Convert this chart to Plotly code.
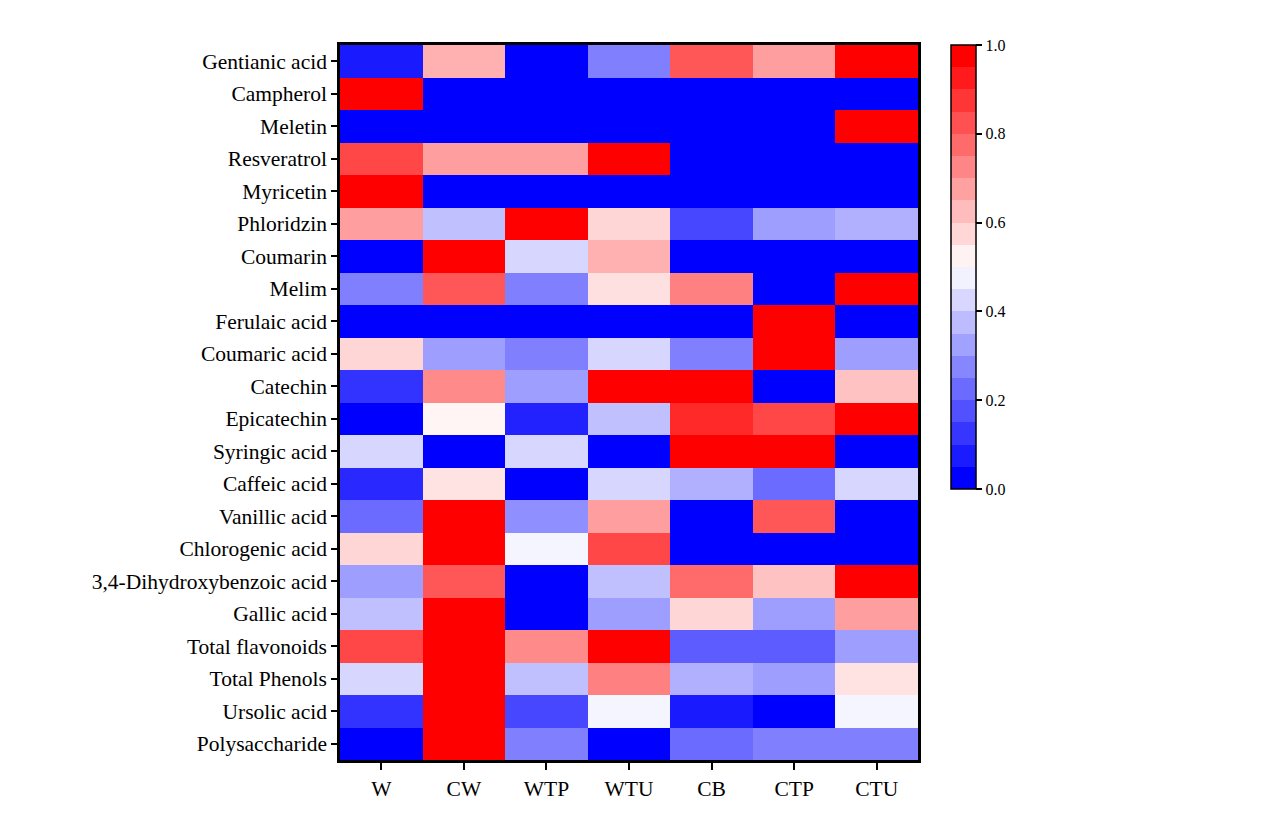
"""
Heatmap of normalised compound contents per treatment
"""
import plotly.graph_objects as go

# Data
treatments = ["W", "CW", "WTP", "WTU", "CB", "CTP", "CTU"]
compounds = [
    "Gentianic acid", "Campherol", "Meletin", "Resveratrol", "Myricetin",
    "Phloridzin", "Coumarin", "Melim", "Ferulaic acid", "Coumaric acid",
    "Catechin", "Epicatechin", "Syringic acid", "Caffeic acid", "Vanillic acid",
    "Chlorogenic acid", "3,4-Dihydroxybenzoic acid", "Gallic acid",
    "Total flavonoids", "Total Phenols", "Ursolic acid", "Polysaccharide",
]
gentianic_acid = [0.05, 0.655, 0.0, 0.25, 0.83, 0.69, 1.0]
campherol = [1.0, 0.0, 0.0, 0.0, 0.0, 0.0, 0.0]
meletin = [0.0, 0.0, 0.0, 0.0, 0.0, 0.0, 1.0]
resveratrol = [0.86, 0.69, 0.69, 1.0, 0.0, 0.0, 0.0]
myricetin = [1.0, 0.0, 0.0, 0.0, 0.0, 0.0, 0.0]
phloridzin = [0.69, 0.377, 1.0, 0.58, 0.14, 0.31, 0.345]
coumarin = [0.0, 1.0, 0.42, 0.655, 0.0, 0.0, 0.0]
melim = [0.25, 0.83, 0.25, 0.56, 0.75, 0.0, 1.0]
ferulaic_acid = [0.0, 0.0, 0.0, 0.0, 0.0, 1.0, 0.0]
coumaric_acid = [0.58, 0.31, 0.25, 0.42, 0.25, 1.0, 0.31]
catechin = [0.10, 0.73, 0.31, 1.0, 1.0, 0.0, 0.62]
epicatechin = [0.0, 0.52, 0.067, 0.377, 0.92, 0.86, 1.0]
syringic_acid = [0.42, 0.0, 0.42, 0.0, 1.0, 1.0, 0.0]
caffeic_acid = [0.08, 0.555, 0.0, 0.42, 0.345, 0.21, 0.42]
vanillic_acid = [0.21, 1.0, 0.28, 0.69, 0.0, 0.83, 0.0]
chlorogenic_acid = [0.58, 1.0, 0.48, 0.86, 0.0, 0.0, 0.0]
dihydroxybenzoic_acid = [0.31, 0.83, 0.0, 0.377, 0.79, 0.62, 1.0]
gallic_acid = [0.377, 1.0, 0.0, 0.31, 0.58, 0.31, 0.69]
total_flavonoids = [0.86, 1.0, 0.73, 1.0, 0.18, 0.18, 0.31]
total_phenols = [0.42, 1.0, 0.377, 0.75, 0.345, 0.31, 0.555]
ursolic_acid = [0.10, 1.0, 0.14, 0.48, 0.05, 0.0, 0.48]
polysaccharide = [0.0, 1.0, 0.25, 0.0, 0.21, 0.25, 0.25]

z = [
    gentianic_acid, campherol, meletin, resveratrol, myricetin, phloridzin,
    coumarin, melim, ferulaic_acid, coumaric_acid, catechin, epicatechin,
    syringic_acid, caffeic_acid, vanillic_acid, chlorogenic_acid,
    dihydroxybenzoic_acid, gallic_acid, total_flavonoids, total_phenols,
    ursolic_acid, polysaccharide,
]

FONT = "Liberation Serif, Times New Roman, serif"
bwr = [[0, "rgb(0,0,255)"], [0.5, "rgb(255,255,255)"], [1, "rgb(255,0,0)"]]


def bwr_color(v):
    if v < 0.5:
        c = round(255 * 2 * v)
        return f"rgb({c},{c},255)"
    c = round(255 * 2 * (1 - v))
    return f"rgb(255,{c},{c})"


# stepped scale only for the colour bar (20 levels like the original)
n_steps = 20
stepped = []
for k in range(n_steps):
    col = bwr_color(k / (n_steps - 1))
    stepped.append([k / n_steps, col])
    stepped.append([(k + 1) / n_steps, col])

fig = go.Figure()
fig.add_trace(go.Heatmap(
    z=z, x=treatments, y=compounds,
    colorscale=bwr, zmin=0, zmax=1,
    showscale=False, xgap=0, ygap=0,
))
fig.add_trace(go.Scatter(
    x=[None, None], y=[None, None], mode="markers", showlegend=False,
    hoverinfo="skip",
    marker=dict(
        color=[0, 1], cmin=0, cmax=1, colorscale=stepped, showscale=True,
        colorbar=dict(
            x=1.057, xanchor="left", y=1.0, yanchor="top",
            len=444, lenmode="pixels", thickness=25,
            xpad=0, ypad=0,
            outlinecolor="black", outlinewidth=1.5,
            tickvals=[0, 0.2, 0.4, 0.6, 0.8, 1.0],
            ticktext=["0.0", "0.2", "0.4", "0.6", "0.8", "1.0"],
            ticks="outside", ticklen=6, tickwidth=1.5, tickcolor="black",
            tickfont=dict(family=FONT, size=16, color="black"),
        ),
    ),
))

fig.update_layout(
    width=1269, height=831,
    margin=dict(l=332, r=359, t=37, b=79),
    paper_bgcolor="white", plot_bgcolor="white",
    font=dict(family=FONT, size=21.5, color="black"),
    xaxis=dict(
        showline=True, linecolor="black", linewidth=2.5, mirror=True,
        ticks="outside", ticklen=7, tickwidth=2, tickcolor="black",
        tickfont=dict(family=FONT, size=21.5), showgrid=False, zeroline=False,
    ),
    yaxis=dict(
        autorange="reversed",
        showline=True, linecolor="black", linewidth=2.5, mirror=True,
        ticks="outside", ticklen=6, tickwidth=2, tickcolor="black",
        tickfont=dict(family=FONT, size=21.5), showgrid=False, zeroline=False,
    ),
)

fig.write_html("out.html")
